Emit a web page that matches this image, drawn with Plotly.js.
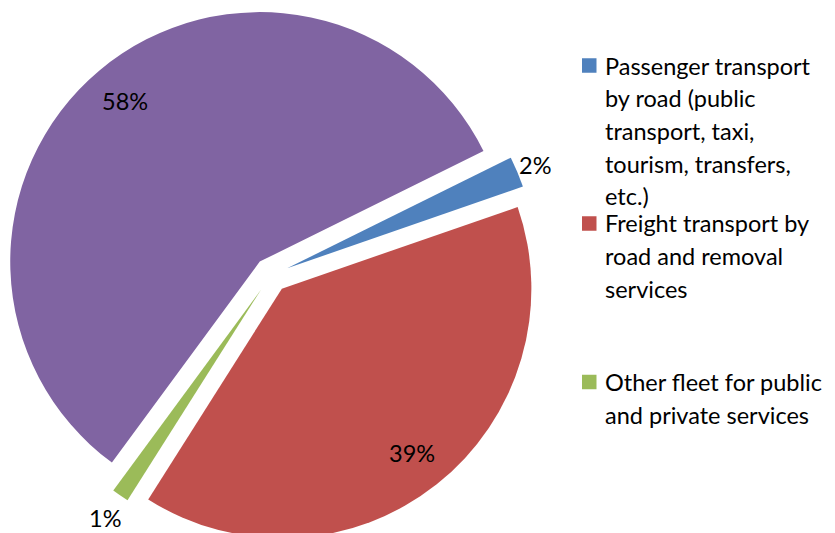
<!DOCTYPE html>
<html>
<head>
<meta charset="utf-8">
<script src="https://cdn.plot.ly/plotly-3.0.1.min.js"></script>
<style>
  html, body { margin: 0; padding: 0; overflow: hidden; background: #fff; }
  #chart { width: 835px; height: 545px; }
</style>
</head>
<body>
<div id="chart"></div>
<script>
// ---- data ----
const sliceLabels = [
  'Passenger transport by road (public transport, taxi, tourism, transfers, etc.)',
  'Freight transport by road and removal services',
  'Other fleet for public and private services',
  'Remaining fleet'
];
const sliceValues = [2.0, 39.3, 1.1, 57.6];
const sliceColors = ['#4F81BD', '#C0504D', '#9BBB59', '#8064A2'];
const legendEntries = [0, 1, 2];   // slices shown in the legend
const legendLines = [
  ['Passenger transport', 'by road (public', 'transport, taxi,', 'tourism, transfers,', 'etc.)'],
  ['Freight transport by', 'road and removal', 'services'],
  ['Other fleet for public', 'and private services']
];

// ---- layout / style ----
const W = 835, H = 545, M = {l: 0, r: 0, t: 8, b: 3};
const plotW = W - M.l - M.r, plotH = H - M.t - M.b;
const domX = [4 / 835, 538 / 835];
const pull = 0.07;
const rotation = 63.7;
const FONT = 'Lato, "Open Sans", sans-serif';
const FS = 23.5;
const labelRadius = [1.075, 0.84, 1.11, 0.84];
const legendStyle = {
  squareX: 582, squareSize: 14.5, textX: 603,
  firstLineY: [65.5, 223.5, 382], lineGap: 32.7
};

const px2x = px => (px - M.l) / plotW;
const px2y = py => 1 - (py - M.t) / plotH;

// pie geometry as Plotly computes it
const cx = M.l + plotW * (domX[0] + domX[1]) / 2;
const cy = M.t + plotH / 2;
const R = Math.min(plotW * (domX[1] - domX[0]), plotH) / 2 / (1 + pull);

const total = sliceValues.reduce((a, b) => a + b, 0);
const annotations = [];
let angle = 90 - rotation; // math degrees, clockwise travel
sliceValues.forEach((v, i) => {
  const span = v / total * 360;
  const mid = (angle - span / 2) * Math.PI / 180;
  angle -= span;
  const dist = pull * R + labelRadius[i] * R;
  const x = cx + dist * Math.cos(mid);
  const y = cy - dist * Math.sin(mid);
  annotations.push({
    x: px2x(x), y: px2y(y), xref: 'paper', yref: 'paper',
    text: Math.round(v / total * 100) + '%', showarrow: false,
    xanchor: 'center', yanchor: 'middle',
    font: {family: FONT, size: FS, color: '#000'}
  });
});

const shapes = [];
legendEntries.forEach((si, k) => {
  const y0 = legendStyle.firstLineY[k];
  const s = legendStyle.squareSize;
  shapes.push({
    type: 'rect', xref: 'paper', yref: 'paper',
    x0: px2x(legendStyle.squareX), x1: px2x(legendStyle.squareX + s),
    y0: px2y(y0 - s / 2), y1: px2y(y0 + s / 2),
    fillcolor: sliceColors[si], line: {width: 0}
  });
  legendLines[k].forEach((ln, j) => {
    annotations.push({
      x: px2x(legendStyle.textX), y: px2y(y0 + j * legendStyle.lineGap),
      xref: 'paper', yref: 'paper', text: ln, showarrow: false,
      xanchor: 'left', yanchor: 'middle',
      font: {family: FONT, size: FS, color: '#000'}
    });
  });
});

const trace = {
  type: 'pie',
  labels: sliceLabels,
  values: sliceValues,
  marker: {colors: sliceColors, line: {width: 0}},
  sort: false,
  direction: 'clockwise',
  rotation: rotation,
  pull: pull,
  textinfo: 'none',
  hoverinfo: 'label+percent',
  showlegend: false,
  domain: {x: domX, y: [0, 1]}
};

Plotly.newPlot('chart', [trace], {
  width: W, height: H, margin: M,
  paper_bgcolor: '#fff', plot_bgcolor: '#fff',
  showlegend: false,
  annotations: annotations,
  shapes: shapes,
  font: {family: FONT}
}, {staticPlot: true, displayModeBar: false});
</script>
</body>
</html>
